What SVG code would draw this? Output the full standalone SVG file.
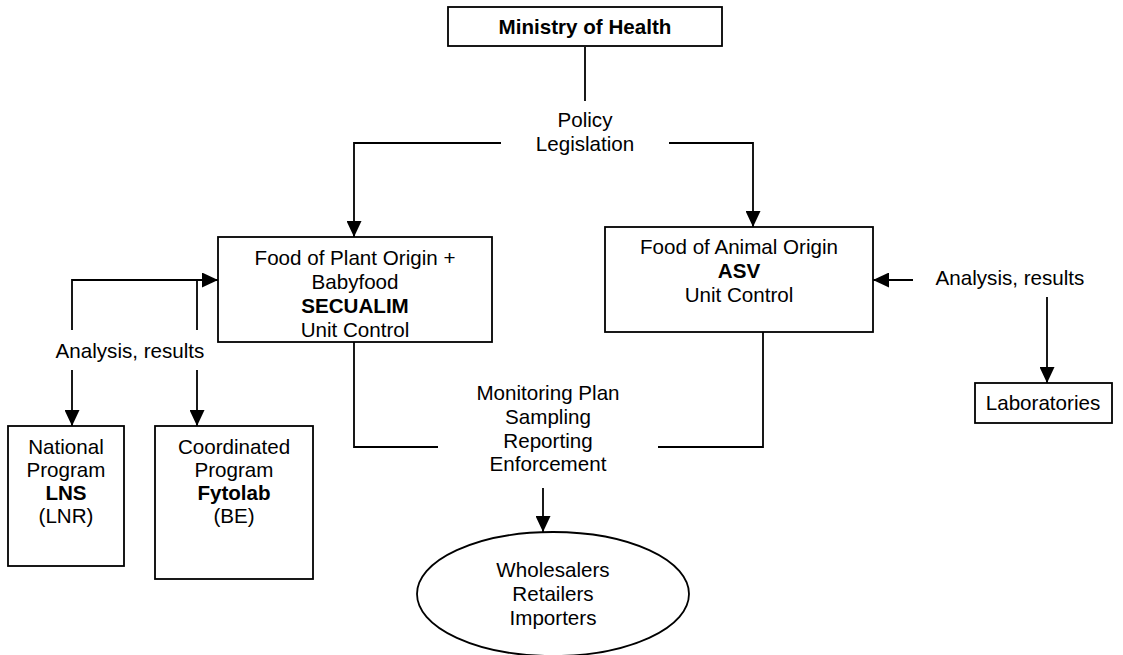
<svg xmlns="http://www.w3.org/2000/svg" width="1123" height="655" viewBox="0 0 1123 655">
<style>
text{font-family:"Liberation Sans",Arial,sans-serif;font-size:20.6px;fill:#000;text-anchor:middle}
.b{font-weight:bold}
.box{fill:#fff;stroke:#000;stroke-width:1.8}
.ln{fill:none;stroke:#000;stroke-width:1.8}
</style>
<defs>
<marker id="ah" viewBox="0 0 10 10" refX="10" refY="5" markerWidth="16" markerHeight="15" markerUnits="userSpaceOnUse" orient="auto" preserveAspectRatio="none">
<path d="M0,0 L10,5 L0,10 Z" fill="#000"/>
</marker>
</defs>
<rect width="1123" height="655" fill="#fff"/>
<g id="connectors">
<line class="ln" x1="585" y1="47" x2="585" y2="101"/>
<polyline class="ln" points="501,143 354,143 354,237" marker-end="url(#ah)"/>
<polyline class="ln" points="669,143 753,143 753,227" marker-end="url(#ah)"/>
<polyline class="ln" points="72,330 72,280 218,280" marker-end="url(#ah)"/>
<line class="ln" x1="197" y1="280" x2="197" y2="330"/>
<line class="ln" x1="72" y1="370" x2="72" y2="426" marker-end="url(#ah)"/>
<line class="ln" x1="197" y1="370" x2="197" y2="426" marker-end="url(#ah)"/>
<line class="ln" x1="913" y1="280" x2="873" y2="280" marker-end="url(#ah)"/>
<line class="ln" x1="1047" y1="297" x2="1047" y2="383" marker-end="url(#ah)"/>
<polyline class="ln" points="354,342 354,447 438,447"/>
<polyline class="ln" points="658,447 763,447 763,332"/>
<line class="ln" x1="543" y1="488" x2="543" y2="532" marker-end="url(#ah)"/>
<text x="585" y="127">Policy</text>
<text x="585" y="151">Legislation</text>
<text x="130" y="358">Analysis, results</text>
<text x="1010" y="285">Analysis, results</text>
<text x="548" y="400">Monitoring Plan</text>
<text x="548" y="424">Sampling</text>
<text x="548" y="448">Reporting</text>
<text x="548" y="471">Enforcement</text>
</g>
<g id="ministry">
<rect class="box" x="448" y="7" width="274" height="39"/>
<text class="b" x="585" y="34">Ministry of Health</text>
</g>
<g id="plant">
<rect class="box" x="218" y="237" width="274" height="105"/>
<text x="355" y="265">Food of Plant Origin +</text>
<text x="355" y="289">Babyfood</text>
<text class="b" x="355" y="313">SECUALIM</text>
<text x="355" y="337">Unit Control</text>
</g>
<g id="animal">
<rect class="box" x="605" y="227" width="268" height="105"/>
<text x="739" y="254">Food of Animal Origin</text>
<text class="b" x="739" y="278">ASV</text>
<text x="739" y="302">Unit Control</text>
</g>
<g id="national">
<rect class="box" x="8" y="426" width="116" height="140"/>
<text x="66" y="454">National</text>
<text x="66" y="477">Program</text>
<text class="b" x="66" y="500">LNS</text>
<text x="66" y="523">(LNR)</text>
</g>
<g id="coordinated">
<rect class="box" x="155" y="426" width="158" height="153"/>
<text x="234" y="454">Coordinated</text>
<text x="234" y="477">Program</text>
<text class="b" x="234" y="500">Fytolab</text>
<text x="234" y="523">(BE)</text>
</g>
<g id="laboratories">
<rect class="box" x="975" y="383" width="137" height="40"/>
<text x="1043" y="410">Laboratories</text>
</g>
<g id="operators">
<ellipse class="box" cx="553" cy="594" rx="136" ry="62"/>
<text x="553" y="577">Wholesalers</text>
<text x="553" y="601">Retailers</text>
<text x="553" y="625">Importers</text>
</g>
</svg>
